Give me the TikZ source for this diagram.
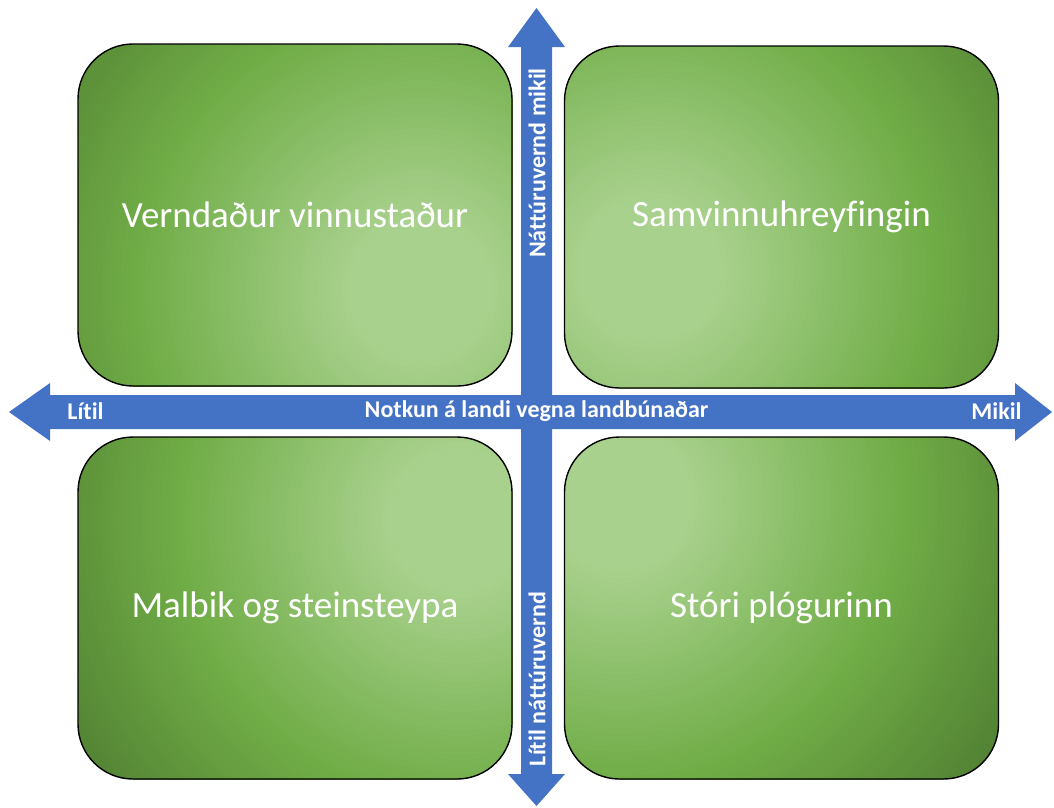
\documentclass[tikz,border=0pt]{standalone}
\usepackage{fontspec}
\setmainfont{Carlito}[Ligatures={NoCommon}]
\definecolor{arrowblue}{HTML}{4472C4}
\definecolor{gl}{HTML}{A9D18E}
\definecolor{gm}{HTML}{70AD47}
\definecolor{gd}{HTML}{507E31}
\tikzset{
  quadbox/.style={draw=black, line width=1.4pt, rounded corners=55pt,
    minimum width=434pt, minimum height=342pt, inner sep=0pt,
    text=white, font=\fontsize{37}{44}\selectfont},
  axislabel/.style={text=white, font=\bfseries\fontsize{24}{28}\selectfont, inner sep=0pt},
  axisarrow/.style={fill=arrowblue, draw=none}
}
\newcommand{\greenglow}[3]{% #1 = clip corner, #2 = opposite corner, #3 = glow centre
  \begin{scope}
    \clip[rounded corners=55pt] (#1) rectangle (#2);
    \foreach \rr in {480,474,...,6} {
      \pgfmathsetmacro\qt{\rr/470}
      \pgfmathsetmacro\pa{max(0,min(100,(\qt-0.6)/0.4*100))}
      \pgfmathsetmacro\pb{max(0,min(100,(\qt-0.15)/0.45*100))}
      \colorlet{tmpc}{gm!\pb!gl}
      \fill[gd!\pa!tmpc] (#3) circle[radius=\rr pt];
    }
  \end{scope}}
\begin{document}
\begin{tikzpicture}[x=1pt,y=-1pt]
\useasboundingbox (0,0) rectangle (1054,807);
% green fills
\greenglow{78,44}{512,386}{420,290}
\greenglow{564.5,46}{998.5,388}{650,270}
\greenglow{78,437}{512,779}{460,520}
\greenglow{564.5,437}{998.5,779}{620,500}
% horizontal arrow
\fill[axisarrow] (9,412) -- (50,383) -- (50,395) -- (1015,395) -- (1015,383) -- (1052,412) -- (1015,441) -- (1015,429) -- (50,429) -- (50,441) -- cycle;
% vertical arrow
\fill[axisarrow] (536.5,8) -- (565,47) -- (552,47) -- (552,774) -- (565,774) -- (536.5,806) -- (508,774) -- (521,774) -- (521,47) -- (508,47) -- cycle;
% boxes
\node[quadbox] (tl) at (295,215) {Verndaður vinnustaður};
\node[quadbox] (tr) at (781.5,217) {Samvinnuhreyfingin};
\node[quadbox] (bl) at (295,608) {Malbik og steinsteypa};
\node[quadbox] (br) at (781.5,608) {Stóri plógurinn};
% axis labels
\node[axislabel] (hmid) at (536.5,411) {Notkun á landi vegna landbúnaðar};
\node[axislabel] (hleft) at (85.5,411) {Lítil};
\node[axislabel] (hright) at (996.5,411) {Mikil};
\node[axislabel, rotate=90] (vtop) at (537,163) {Náttúruvernd mikil};
\node[axislabel, rotate=90] (vbot) at (537,679) {Lítil náttúruvernd};
\end{tikzpicture}
\end{document}
